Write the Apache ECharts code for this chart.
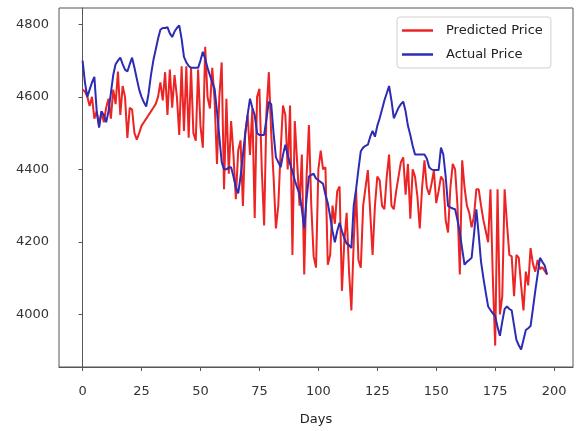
<!DOCTYPE html>
<html><head><meta charset="utf-8">
<script src="https://cdn.jsdelivr.net/npm/echarts@6/dist/echarts.min.js"></script>
<style>html,body{margin:0;padding:0;background:#fff}#c{width:577px;height:431px}</style>
</head><body><div id="c"></div>
<script>
const xTicks = [0, 25, 50, 75, 100, 125, 150, 175, 200];
const yTicks = [4000, 4200, 4400, 4600, 4800];
const seriesNames = ['Predicted Price', 'Actual Price'];
const predicted = [
4620,4615,4600,4575,4600,4540,4560,4520,4560,4530,
4570,4595,4540,4620,4580,4670,4550,4630,4600,4487,
4570,4565,4500,4482,4500,4520,4530,4540,4550,4560,
4570,4580,4600,4640,4590,4668,4550,4675,4570,4660,
4600,4495,4684,4506,4684,4487,4680,4500,4479,4675,
4520,4460,4738,4600,4568,4680,4590,4415,4600,4695,
4345,4595,4388,4533,4440,4318,4452,4480,4299,4500,
4550,4440,4568,4266,4600,4622,4400,4245,4560,4668,
4500,4380,4237,4300,4450,4576,4550,4400,4576,4164,
4533,4420,4300,4441,4110,4380,4522,4300,4160,4129,
4400,4452,4400,4406,4137,4164,4300,4250,4340,4353,
4065,4200,4280,4120,4011,4200,4345,4150,4129,4300,
4350,4398,4280,4164,4300,4380,4370,4300,4290,4380,
4441,4300,4290,4340,4380,4420,4433,4330,4415,4264,
4400,4380,4326,4237,4350,4425,4350,4330,4360,4398,
4307,4340,4380,4370,4260,4226,4350,4415,4400,4300,
4110,4425,4350,4300,4280,4240,4270,4345,4345,4300,
4260,4230,4199,4345,4100,3914,4345,4000,4050,4345,
4250,4164,4160,4050,4164,4156,4080,4011,4118,4080,
4183,4140,4118,4150,4125,4130,4120,4110
];
const actual = [
4700,4640,4600,4620,4640,4655,4560,4515,4560,4550,
4530,4560,4610,4660,4690,4700,4708,4690,4675,4670,
4690,4708,4680,4650,4620,4600,4585,4573,4610,4660,
4700,4730,4760,4785,4790,4790,4792,4775,4765,4780,
4790,4797,4760,4710,4695,4685,4680,4680,4680,4680,
4700,4724,4705,4680,4660,4640,4622,4560,4490,4420,
4400,4400,4405,4406,4380,4350,4334,4380,4440,4500,
4550,4595,4570,4550,4500,4495,4495,4495,4540,4587,
4580,4500,4433,4420,4406,4440,4468,4440,4415,4395,
4370,4350,4334,4290,4237,4320,4380,4385,4388,4375,
4370,4365,4360,4330,4307,4270,4230,4199,4230,4253,
4230,4210,4195,4191,4183,4300,4345,4400,4450,4460,
4465,4468,4490,4506,4490,4520,4541,4565,4590,4610,
4630,4590,4541,4555,4570,4580,4587,4560,4520,4495,
4465,4441,4441,4441,4441,4441,4430,4406,4400,4398,
4398,4398,4460,4441,4380,4299,4295,4292,4290,4260,
4226,4180,4137,4145,4150,4156,4220,4290,4220,4145,
4100,4060,4022,4012,4003,3995,3965,3941,3980,4015,
4022,4015,4011,3970,3930,3915,3903,3930,3957,3962,
3968,4015,4065,4110,4156,4145,4135,4110
];
const days = actual.map((_, i) => i);
const font = 'DejaVu Sans';
const chart = echarts.init(document.getElementById('c'), null, {renderer: 'canvas'});
chart.setOption({
  animation: false,
  backgroundColor: '#fff',
  grid: {left: 59, right: 4, top: 8, bottom: 58, show: true, borderColor: '#555', borderWidth: 1, backgroundColor: 'transparent'},
  legend: {
    left: 397, top: 17, orient: 'vertical',
    data: seriesNames,
    icon: 'rect', itemWidth: 31, itemHeight: 2.5, itemGap: 11,
    padding: [7, 8, 7, 5],
    backgroundColor: '#fff', borderColor: '#d0d0d0', borderWidth: 1, borderRadius: 3,
    textStyle: {fontFamily: font, fontSize: 13, color: '#222', padding: [0, 0, 0, 8]}
  },
  xAxis: {
    type: 'value', min: -10, max: 208,
    name: 'Days', nameLocation: 'middle', nameGap: 46,
    nameTextStyle: {fontFamily: font, fontSize: 13, color: '#222'},
    axisLine: {show: true, lineStyle: {color: '#555', width: 1}},
    axisTick: {show: true, length: 4, lineStyle: {color: '#555'}, customValues: xTicks},
    axisLabel: {fontFamily: font, fontSize: 13, color: '#333', margin: 18, customValues: xTicks, formatter: v => String(v)},
    splitLine: {show: false}
  },
  yAxis: {
    type: 'value', min: 3855, max: 4845,
    axisLine: {show: true, lineStyle: {color: '#555', width: 1}},
    axisTick: {show: true, length: 4, lineStyle: {color: '#555'}, customValues: yTicks},
    axisLabel: {fontFamily: font, fontSize: 13, color: '#333', margin: 10, customValues: yTicks, formatter: v => String(v)},
    splitLine: {show: false}
  },
  series: [
    {name: seriesNames[0], type: 'line', data: predicted.map((v, i) => [days[i], v]), showSymbol: false, symbol: 'none',
     lineStyle: {color: '#ec2424', width: 2}, itemStyle: {color: '#ec2424'}},
    {name: seriesNames[1], type: 'line', data: actual.map((v, i) => [days[i], v]), showSymbol: false, symbol: 'none',
     lineStyle: {color: '#2c2cb4', width: 2}, itemStyle: {color: '#2c2cb4'}}
  ]
});
</script></body></html>
